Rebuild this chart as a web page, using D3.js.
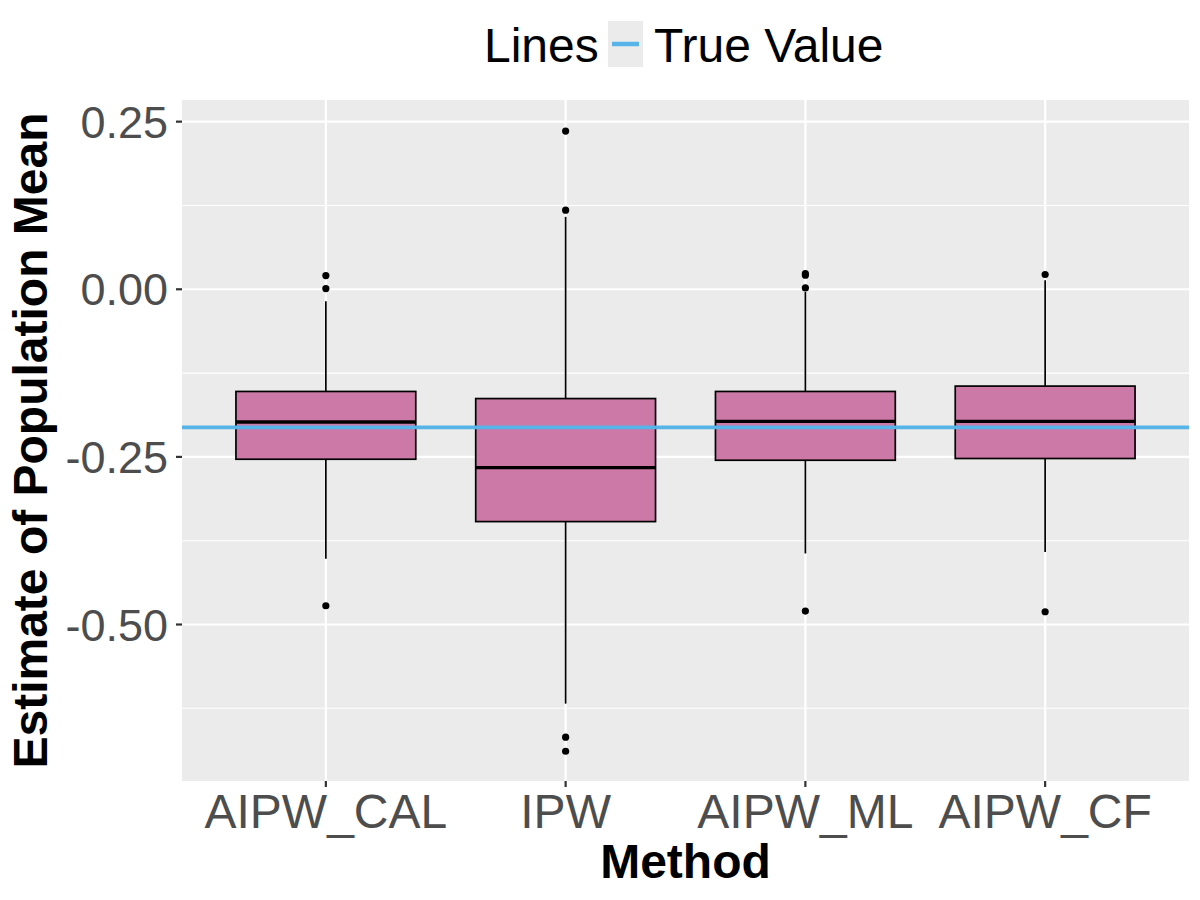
<!DOCTYPE html>
<html lang="en">
<head>
	<meta charset="UTF-8">
	<title>Estimate of Population Mean by Method</title>
	<script src="https://cdn.jsdelivr.net/npm/d3@7/dist/d3.min.js"></script>
	<style>
		body { margin: 0; background: #fff; }
		text { font-family: "Liberation Sans", Arial, sans-serif; }
	</style>
</head>
<body>
	<div id="container"></div>
	<script>
		// data
		var methods = ["AIPW_CAL", "IPW", "AIPW_ML", "AIPW_CF"];
		var q1 = [-0.2535, -0.3465, -0.255, -0.2524];
		var median = [-0.198, -0.266, -0.197, -0.197];
		var q3 = [-0.1524, -0.163, -0.1524, -0.1444];
		var whiskerLow = [-0.402, -0.618, -0.394, -0.392];
		var whiskerHigh = [-0.018, 0.108, -0.004, 0.0134];
		var outliers = [
			[0.0205, 0.001, -0.472],
			[0.236, 0.118, -0.668, -0.689],
			[0.0235, 0.021, 0.002, -0.48],
			[0.022, -0.481]
		];
		var trueValue = -0.206;
		var yTicks = [0.25, 0, -0.25, -0.5];
		var yTickLabels = ["0.25", "0.00", "-0.25", "-0.50"];
		var yMinor = [0.125, -0.125, -0.375, -0.625];

		var width = 1200, height = 900;
		var panel = { left: 182, right: 1189, top: 100, bottom: 781 };

		var svg = d3.select("#container").append("svg")
			.attr("width", width)
			.attr("height", height);

		var x = d3.scaleBand()
			.domain(methods)
			.range([panel.left, panel.right])
			.paddingInner(0)
			.paddingOuter(0.1);

		var y = d3.scaleLinear()
			.domain([-0.7334, 0.2823])
			.range([panel.bottom, panel.top]);

		var cx = function(m) { return x(m) + x.bandwidth() / 2; };

		// panel + grid
		svg.append("rect")
			.attr("x", panel.left).attr("y", panel.top)
			.attr("width", panel.right - panel.left)
			.attr("height", panel.bottom - panel.top)
			.attr("fill", "#EBEBEB");

		svg.selectAll(".minor").data(yMinor).enter().append("line")
			.attr("x1", panel.left).attr("x2", panel.right)
			.attr("y1", d => y(d)).attr("y2", d => y(d))
			.attr("stroke", "#fff").attr("stroke-width", 1.1);

		svg.selectAll(".majory").data(yTicks).enter().append("line")
			.attr("x1", panel.left).attr("x2", panel.right)
			.attr("y1", d => y(d)).attr("y2", d => y(d))
			.attr("stroke", "#fff").attr("stroke-width", 2.2);

		svg.selectAll(".majorx").data(methods).enter().append("line")
			.attr("x1", d => cx(d)).attr("x2", d => cx(d))
			.attr("y1", panel.top).attr("y2", panel.bottom)
			.attr("stroke", "#fff").attr("stroke-width", 2.2);

		// boxes
		var boxW = x.bandwidth() * 0.75;
		var g = svg.selectAll(".box").data(methods).enter().append("g");

		g.append("line")
			.attr("x1", d => cx(d)).attr("x2", d => cx(d))
			.attr("y1", (d, i) => y(whiskerHigh[i])).attr("y2", (d, i) => y(q3[i]))
			.attr("stroke", "#000").attr("stroke-width", 1.7);
		g.append("line")
			.attr("x1", d => cx(d)).attr("x2", d => cx(d))
			.attr("y1", (d, i) => y(q1[i])).attr("y2", (d, i) => y(whiskerLow[i]))
			.attr("stroke", "#000").attr("stroke-width", 1.7);

		g.append("rect")
			.attr("x", d => cx(d) - boxW / 2)
			.attr("width", boxW)
			.attr("y", (d, i) => y(q3[i]))
			.attr("height", (d, i) => y(q1[i]) - y(q3[i]))
			.attr("fill", "#CC79A7")
			.attr("stroke", "#000").attr("stroke-width", 1.7);

		g.append("line")
			.attr("x1", d => cx(d) - boxW / 2).attr("x2", d => cx(d) + boxW / 2)
			.attr("y1", (d, i) => y(median[i])).attr("y2", (d, i) => y(median[i]))
			.attr("stroke", "#000").attr("stroke-width", 3.4);

		g.each(function(d, i) {
			d3.select(this).selectAll("circle").data(outliers[i]).enter().append("circle")
				.attr("cx", cx(d))
				.attr("cy", v => y(v))
				.attr("r", 3.6)
				.attr("fill", "#000");
		});

		// true value line
		svg.append("line")
			.attr("x1", panel.left).attr("x2", panel.right)
			.attr("y1", y(trueValue)).attr("y2", y(trueValue))
			.attr("stroke", "#56B4E9").attr("stroke-width", 3.7);

		// axes ticks + labels
		svg.selectAll(".ytick").data(yTicks).enter().append("line")
			.attr("x1", panel.left - 6).attr("x2", panel.left)
			.attr("y1", d => y(d)).attr("y2", d => y(d))
			.attr("stroke", "#333").attr("stroke-width", 2.2);

		svg.selectAll(".ylab").data(yTicks).enter().append("text")
			.attr("x", 168)
			.attr("y", d => y(d) + 16)
			.attr("text-anchor", "end")
			.attr("font-size", 45)
			.attr("fill", "#4D4D4D")
			.text((d, i) => yTickLabels[i]);

		svg.selectAll(".xtick").data(methods).enter().append("line")
			.attr("x1", d => cx(d)).attr("x2", d => cx(d))
			.attr("y1", panel.bottom).attr("y2", panel.bottom + 6)
			.attr("stroke", "#333").attr("stroke-width", 2.2);

		svg.selectAll(".xlab").data(methods).enter().append("text")
			.attr("x", d => cx(d))
			.attr("y", 828)
			.attr("text-anchor", "middle")
			.attr("font-size", 48)
			.attr("fill", "#4D4D4D")
			.text(d => d);

		// axis titles
		svg.append("text")
			.attr("x", (panel.left + panel.right) / 2)
			.attr("y", 878)
			.attr("text-anchor", "middle")
			.attr("font-size", 48)
			.attr("font-weight", "bold")
			.text("Method");

		svg.append("text")
			.attr("transform", "translate(47," + ((panel.top + panel.bottom) / 2) + ") rotate(-90)")
			.attr("text-anchor", "middle")
			.attr("font-size", 48)
			.attr("font-weight", "bold")
			.text("Estimate of Population Mean");

		// legend
		svg.append("text")
			.attr("x", 484).attr("y", 62)
			.attr("font-size", 48)
			.text("Lines");
		svg.append("rect")
			.attr("x", 608).attr("y", 21)
			.attr("width", 35).attr("height", 46)
			.attr("fill", "#EBEBEB");
		svg.append("line")
			.attr("x1", 612).attr("x2", 639)
			.attr("y1", 44).attr("y2", 44)
			.attr("stroke", "#56B4E9").attr("stroke-width", 4.5);
		svg.append("text")
			.attr("x", 654).attr("y", 62)
			.attr("font-size", 48)
			.text("True Value");
	</script>
</body>
</html>
